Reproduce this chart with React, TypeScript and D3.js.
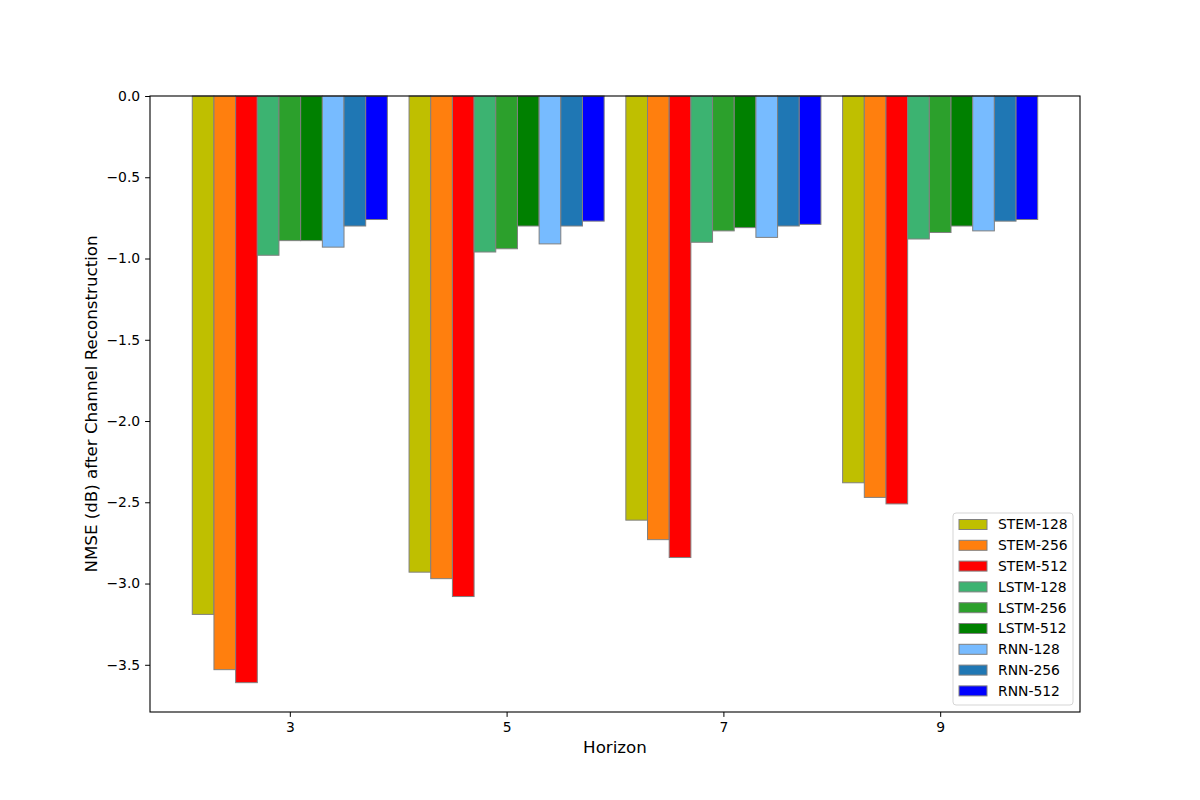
import React, { useEffect, useRef } from 'react';
import * as d3 from 'd3';

const horizons = [3, 5, 7, 9];

const seriesNames = [
  'STEM-128', 'STEM-256', 'STEM-512',
  'LSTM-128', 'LSTM-256', 'LSTM-512',
  'RNN-128', 'RNN-256', 'RNN-512',
];

const seriesColors = [
  '#bfbf00', '#ff7f0e', '#ff0000',
  '#3cb371', '#2ca02c', '#008000',
  '#77bbff', '#1f77b4', '#0000ff',
];

// one row per series, one value per horizon
const stem128 = [-3.19, -2.93, -2.61, -2.38];
const stem256 = [-3.53, -2.97, -2.73, -2.47];
const stem512 = [-3.61, -3.08, -2.84, -2.51];
const lstm128 = [-0.98, -0.96, -0.90, -0.88];
const lstm256 = [-0.89, -0.94, -0.83, -0.84];
const lstm512 = [-0.89, -0.80, -0.81, -0.80];
const rnn128 = [-0.93, -0.91, -0.87, -0.83];
const rnn256 = [-0.80, -0.80, -0.80, -0.77];
const rnn512 = [-0.76, -0.77, -0.79, -0.76];

const seriesValues = [stem128, stem256, stem512, lstm128, lstm256, lstm512, rnn128, rnn256, rnn512];

const yTicks = [0, -0.5, -1.0, -1.5, -2.0, -2.5, -3.0, -3.5];

const width = 1200;
const height = 800;
const margin = { top: 96, right: 120, bottom: 88, left: 150 };
const barWidth = 0.2;
const font = 'DejaVu Sans, sans-serif';

const App: React.FC = () => {
  const svgRef = useRef<SVGSVGElement>(null);

  useEffect(() => {
    if (!svgRef.current) return;
    const svg = d3.select(svgRef.current);
    svg.selectAll('*').remove();

    const innerWidth = width - margin.left - margin.right;
    const innerHeight = height - margin.top - margin.bottom;

    const n = seriesNames.length;
    const xMin = horizons[0] - (n / 2) * barWidth;
    const xMax = horizons[horizons.length - 1] + (n / 2) * barWidth;
    const xPad = (xMax - xMin) * 0.05;
    const x = d3.scaleLinear().domain([xMin - xPad, xMax + xPad]).range([0, innerWidth]);

    const minVal = d3.min(seriesValues.flat()) as number;
    const y = d3.scaleLinear().domain([minVal * 1.05, 0]).range([innerHeight, 0]);

    const g = svg.append('g').attr('transform', `translate(${margin.left},${margin.top})`);

    // Bars
    seriesValues.forEach((vals, si) => {
      const offset = (si - (n - 1) / 2) * barWidth;
      g.append('g')
        .selectAll('rect')
        .data(vals)
        .enter()
        .append('rect')
        .attr('x', (d, i) => x(horizons[i] + offset - barWidth / 2))
        .attr('y', y(0))
        .attr('width', x(barWidth) - x(0))
        .attr('height', d => y(d) - y(0))
        .attr('fill', seriesColors[si])
        .attr('stroke', '#808080')
        .attr('stroke-width', 1);
    });

    // X axis
    const xAxis = g.append('g')
      .attr('transform', `translate(0,${innerHeight})`)
      .call(d3.axisBottom(x).tickValues(horizons).tickFormat(d3.format('d')).tickSize(4.9).tickPadding(4.9));
    xAxis.select('.domain').remove();
    xAxis.selectAll('text').style('font-family', font).style('font-size', '13.9px').attr('fill', '#000');
    xAxis.selectAll('line').attr('stroke', '#000');

    // Y axis
    const yAxis = g.append('g')
      .call(d3.axisLeft(y).tickValues(yTicks).tickFormat(d => d3.format('.1f')(d as number).replace('-', '\u2212')).tickSize(4.9).tickPadding(4.9));
    yAxis.select('.domain').remove();
    yAxis.selectAll('text').style('font-family', font).style('font-size', '13.9px').attr('fill', '#000');
    yAxis.selectAll('line').attr('stroke', '#000');

    // Frame
    g.append('rect')
      .attr('width', innerWidth)
      .attr('height', innerHeight)
      .attr('fill', 'none')
      .attr('stroke', '#000')
      .attr('stroke-width', 1.1);

    // Axis labels
    g.append('text')
      .attr('x', innerWidth / 2)
      .attr('y', innerHeight + 41)
      .attr('text-anchor', 'middle')
      .style('font-family', font)
      .style('font-size', '16.7px')
      .text('Horizon');

    g.append('text')
      .attr('transform', `translate(${-53},${innerHeight / 2}) rotate(-90)`)
      .attr('text-anchor', 'middle')
      .style('font-family', font)
      .style('font-size', '16.7px')
      .text('NMSE (dB) after Channel Reconstruction');

    // Legend
    const rowH = 20.8;
    const legend = g.append('g')
      .attr('transform', `translate(${innerWidth - 127},${innerHeight - 199})`);
    legend.append('rect')
      .attr('width', 120)
      .attr('height', 192)
      .attr('rx', 3)
      .attr('fill', '#fff')
      .attr('fill-opacity', 0.8)
      .attr('stroke', '#d5d5d5');
    const rows = legend.selectAll('g.row')
      .data(seriesNames)
      .enter()
      .append('g')
      .attr('class', 'row')
      .attr('transform', (d, i) => `translate(0,${11.5 + i * rowH})`);
    rows.append('rect')
      .attr('x', 6)
      .attr('y', -5)
      .attr('width', 28)
      .attr('height', 10)
      .attr('fill', (d, i) => seriesColors[i])
      .attr('stroke', '#808080');
    rows.append('text')
      .attr('x', 45)
      .attr('dy', '0.35em')
      .style('font-family', font)
      .style('font-size', '13.9px')
      .text(d => d);
  }, []);

  return <svg ref={svgRef} width={width} height={height} style={{ display: 'block', margin: -8 }} />;
};

export default App;
